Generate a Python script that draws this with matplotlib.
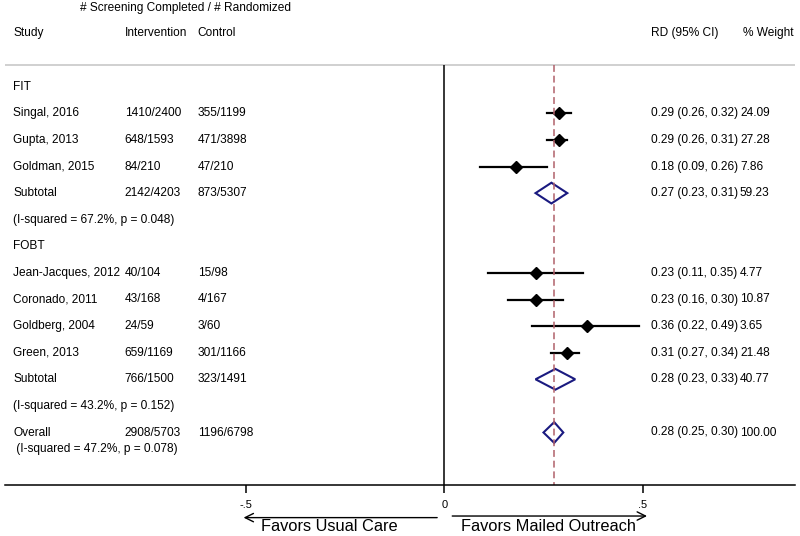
import matplotlib
matplotlib.use('Agg')
import matplotlib.pyplot as plt
import matplotlib.transforms as mtransforms
from matplotlib.patches import Polygon

# Study level data
study_names = ['Singal, 2016', 'Gupta, 2013', 'Goldman, 2015',
               'Jean-Jacques, 2012', 'Coronado, 2011', 'Goldberg, 2004', 'Green, 2013']
study_group = ['FIT', 'FIT', 'FIT', 'FOBT', 'FOBT', 'FOBT', 'FOBT']
intervention = ['1410/2400', '648/1593', '84/210', '40/104', '43/168', '24/59', '659/1169']
control = ['355/1199', '471/3898', '47/210', '15/98', '4/167', '3/60', '301/1166']
rd = [0.29, 0.29, 0.18, 0.23, 0.23, 0.36, 0.31]
ci_low = [0.26, 0.26, 0.09, 0.11, 0.16, 0.22, 0.27]
ci_high = [0.32, 0.31, 0.26, 0.35, 0.30, 0.49, 0.34]
weight = [24.09, 27.28, 7.86, 4.77, 10.87, 3.65, 21.48]

# Subgroup summaries
groups = ['FIT', 'FOBT']
sub_intervention = ['2142/4203', '766/1500']
sub_control = ['873/5307', '323/1491']
sub_rd = [0.27, 0.28]
sub_low = [0.23, 0.23]
sub_high = [0.31, 0.33]
sub_weight = [59.23, 40.77]
sub_i2 = [67.2, 43.2]
sub_p = [0.048, 0.152]

# Overall summary
overall_intervention = '2908/5703'
overall_control = '1196/6798'
overall_rd = 0.277
overall_low = 0.25
overall_high = 0.30
overall_weight = 100.00
overall_i2 = 47.2
overall_p = 0.078

x_ticks = [-0.5, 0, 0.5]
x_tick_labels = ['-.5', '0', '.5']

FS = 8.6
NAVY = '#1a1a80'


def add_row_text(ax, y, cols):
    """Write the text columns of one row (x in axes fraction, y in row units)."""
    trans = mtransforms.blended_transform_factory(ax.transAxes, ax.transData)
    for x, s in cols:
        if s:
            ax.text(x, y, s, transform=trans, fontsize=FS, va='center', ha='left')


def draw_diamond(ax, y, lo, est, hi, half=0.39):
    """Draw a hollow summary diamond."""
    poly = Polygon([(lo, y), (est, y - half), (hi, y), (est, y + half)],
                   closed=True, fill=False, edgecolor=NAVY, linewidth=1.5)
    ax.add_patch(poly)


def ci_text(est, lo, hi):
    return f'{est:.2f} ({lo:.2f}, {hi:.2f})'


def forest_plot():
    plt.rcParams['font.family'] = ['Liberation Sans', 'DejaVu Sans']
    fig = plt.figure(figsize=(8, 5.36), dpi=100)
    ax = fig.add_axes([0, 0, 1, 1])

    px_per_unit = 396.7
    x0 = 444.3
    ax.set_xlim(-x0 / px_per_unit, (800 - x0) / px_per_unit)
    row0, row_h = 86.7, 26.6
    ax.set_ylim((536 - row0) / row_h, -row0 / row_h)

    c_study, c_int, c_ctl, c_rd, c_w = 0.0165, 0.156, 0.247, 0.814, 0.925

    # Header
    trans = mtransforms.blended_transform_factory(ax.transAxes, ax.transData)
    ax.text(0.1, -2.96, '# Screening Completed / # Randomized', transform=trans,
            fontsize=FS, va='center', ha='left')
    add_row_text(ax, -2.02, [(c_study, 'Study'), (c_int, 'Intervention'),
                             (c_ctl, 'Control'), (c_rd, 'RD (95% CI)'), (0.929, '% Weight')])

    row = 0
    for g, group in enumerate(groups):
        add_row_text(ax, row, [(c_study, group)])
        row += 1
        for i, name in enumerate(study_names):
            if study_group[i] != group:
                continue
            add_row_text(ax, row, [(c_study, name), (c_int, intervention[i]),
                                   (c_ctl, control[i]),
                                   (c_rd, ci_text(rd[i], ci_low[i], ci_high[i])),
                                   (c_w, f'{weight[i]:.2f}')])
            ax.plot([ci_low[i], ci_high[i]], [row, row], color='black', lw=1.6)
            ax.plot(rd[i], row, marker='D', color='black', markersize=6)
            row += 1
        add_row_text(ax, row, [(c_study, 'Subtotal'), (c_int, sub_intervention[g]),
                               (c_ctl, sub_control[g]),
                               (c_rd, ci_text(sub_rd[g], sub_low[g], sub_high[g])),
                               (c_w, f'{sub_weight[g]:.2f}')])
        draw_diamond(ax, row, sub_low[g], sub_rd[g], sub_high[g])
        row += 1
        add_row_text(ax, row, [(c_study, f'(I-squared = {sub_i2[g]:.1f}%, p = {sub_p[g]:.3f})')])
        row += 1

    add_row_text(ax, row, [(c_study, 'Overall'), (c_int, overall_intervention),
                           (c_ctl, overall_control),
                           (c_rd, ci_text(0.28, overall_low, overall_high)),
                           (c_w, f'{overall_weight:.2f}')])
    draw_diamond(ax, row, overall_low, overall_rd, overall_high)
    add_row_text(ax, row + 0.63,
                 [(c_study, f' (I-squared = {overall_i2:.1f}%, p = {overall_p:.3f})')])

    # Lines
    top, bottom = -0.82, 14.96
    left_b, right_b = -439 / px_per_unit, 351 / px_per_unit
    ax.hlines(top, left_b, right_b, color='#c8c8c8', lw=1.2)
    ax.vlines(0, top, bottom, color='black', lw=1.1)
    ax.vlines(overall_rd, top, bottom, color='#b0606a', lw=1.1, linestyles=(0, (4.5, 2.5)))

    # Axis at the bottom of the table
    for s in ['top', 'right', 'left']:
        ax.spines[s].set_visible(False)
    ax.spines['bottom'].set_position(('data', bottom))
    ax.spines['bottom'].set_bounds(left_b, right_b)
    ax.spines['bottom'].set_linewidth(1.1)
    ax.set_xticks(x_ticks)
    ax.set_xticklabels(x_tick_labels)
    ax.tick_params(axis='x', direction='out', length=6, width=1.1, labelsize=8, pad=5)
    ax.set_yticks([])

    # Favours arrows
    arrow = dict(arrowstyle='->, head_length=0.6, head_width=0.3', color='black',
                 lw=1.0, shrinkA=0, shrinkB=0)
    ax.annotate('', xy=(-0.506, 16.2), xytext=(-0.018, 16.2), arrowprops=arrow)
    ax.annotate('', xy=(0.511, 16.14), xytext=(0.02, 16.14), arrowprops=arrow)
    big = dict(fontsize=11.8, va='center', ha='center',
               family=['Liberation Sans Narrow', 'Liberation Sans', 'DejaVu Sans'])
    ax.text(-0.29, 16.55, 'Favors Usual Care', **big)
    ax.text(0.263, 16.55, 'Favors Mailed Outreach', **big)

    fig.savefig('out.png', dpi=100)


if __name__ == '__main__':
    forest_plot()
